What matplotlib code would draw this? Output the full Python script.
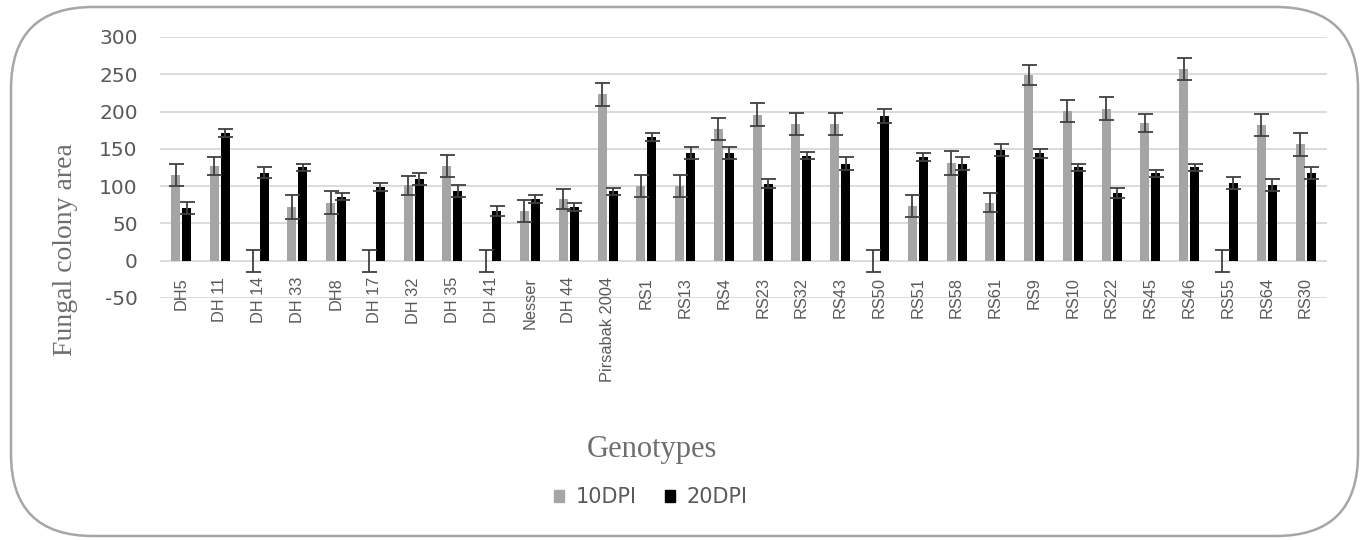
import matplotlib
matplotlib.use("Agg")
import matplotlib.pyplot as plt
import numpy as np
from matplotlib.patches import FancyBboxPatch, Patch

plt.rcParams["axes.unicode_minus"] = False

genotypes = ["DH5", "DH 11", "DH 14", "DH 33", "DH8", "DH 17", "DH 32", "DH 35",
             "DH 41", "Nesser", "DH 44", "Pirsabak 2004", "RS1", "RS13", "RS4",
             "RS23", "RS32", "RS43", "RS50", "RS51", "RS58", "RS61", "RS9", "RS10",
             "RS22", "RS45", "RS46", "RS55", "RS64", "RS30"]
dpi10 = [115, 127, 0, 72, 78, 0, 101, 127, 0, 67, 83, 223, 100, 100, 177,
         196, 183, 183, 0, 73, 131, 78, 249, 201, 204, 185, 257, 0, 182, 156]
dpi10_err = [15, 12, 15, 16, 15, 15, 13, 15, 15, 15, 13, 15, 15, 15, 15,
             15, 15, 15, 15, 15, 16, 13, 13, 15, 15, 12, 15, 15, 15, 15]
dpi20 = [71, 171, 118, 125, 86, 99, 109, 93, 67, 83, 72, 93, 166, 144, 144,
         103, 141, 130, 194, 139, 130, 149, 144, 125, 91, 117, 125, 104, 101, 117]
dpi20_err = [8, 5, 7, 5, 5, 5, 8, 8, 7, 5, 5, 5, 5, 8, 8,
             6, 5, 9, 9, 5, 9, 8, 6, 5, 7, 5, 5, 8, 8, 8]

n = len(genotypes)
x = np.arange(n)

fig = plt.figure(figsize=(13.64, 5.4), dpi=100)
ax = fig.add_axes([160 / 1364, 1 - 298 / 540, (1327 - 160) / 1364, (298 - 37) / 540])

# bar pair spacing taken from the first and last category centres
step = (1305.5 - 181) / (n - 1)
w = 9 / step
off = 5.5 / step
ax.bar(x - off, dpi10, w, color="#A5A5A5", zorder=2, label="10DPI")
ax.bar(x + off, dpi20, w, color="#000000", zorder=2, label="20DPI")
ax.errorbar(x - off, dpi10, yerr=dpi10_err, fmt="none", ecolor="#404040",
            elinewidth=1.3, capsize=5.4, capthick=1.3, zorder=3)
ax.errorbar(x + off, dpi20, yerr=dpi20_err, fmt="none", ecolor="#404040",
            elinewidth=1.3, capsize=5.4, capthick=1.3, zorder=3)

ax.set_xlim(-(181 - 160) / step, (n - 1) + (1327 - 1305.5) / step)
ax.set_ylim(-50, 300)
ax.set_yticks(range(-50, 301, 50))
ax.grid(axis="y", color="#D9D9D9", lw=1.3, zorder=0)
ax.set_axisbelow(True)
for s in ax.spines.values():
    s.set_visible(False)
ax.tick_params(axis="y", length=0, pad=16, labelsize=14.5, labelcolor="#595959")
ax.set_xticks([])

for i, g in enumerate(genotypes):
    ax.text(i, -22, g, rotation=90, ha="center", va="top", fontsize=11.8,
            family="Liberation Sans", color="#595959")

fig.text(65 / 1364, 1 - 250 / 540, "Fungal colony area", rotation=90,
         ha="center", va="center", family="Liberation Serif", fontsize=20,
         color="#6E6E6E")
fig.text(652 / 1364, 1 - 450 / 540, "Genotypes", ha="center", va="center",
         family="Liberation Serif", fontsize=22, color="#6E6E6E")

handles = [Patch(color="#A5A5A5", label="10DPI"), Patch(color="#000000", label="20DPI")]
fig.legend(handles=handles, loc="center", bbox_to_anchor=(651 / 1364, 1 - 497 / 540),
           ncol=2, frameon=False, fontsize=15, handlelength=0.5, handleheight=0.5,
           handletextpad=0.55, columnspacing=1.35, labelcolor="#595959")

border = FancyBboxPatch((0.11, 0.04), 13.47, 5.29,
                        boxstyle="round,pad=0,rounding_size=0.82",
                        transform=fig.dpi_scale_trans, fill=False,
                        edgecolor="#A6A6A6", lw=1.8)
fig.patches.append(border)

fig.savefig("out.png", dpi=100)
